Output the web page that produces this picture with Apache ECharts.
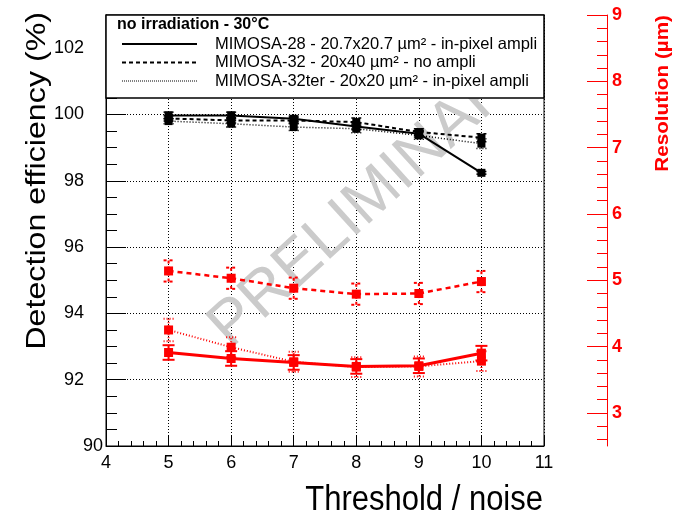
<!DOCTYPE html>
<html>
<head>
<meta charset="utf-8">
<script src="https://cdn.jsdelivr.net/npm/echarts@6/dist/echarts.min.js"></script>
<style>
  html, body { margin: 0; padding: 0; background: #fff; }
  #chart { width: 682px; height: 517px; }
</style>
</head>
<body>
<div id="chart"></div>
<script>
// threshold / noise
const thresholds = [5, 6, 7, 8, 9, 10];

// detection efficiency (%), left axis
const effM28 = [99.97, 99.97, 99.87, 99.64, 99.42, 98.24];
const effM32 = [99.88, 99.82, 99.82, 99.77, 99.47, 99.3];
const effM32ter = [99.8, 99.72, 99.62, 99.57, 99.37, 99.12];
const effErrM28 = [0.1, 0.1, 0.08, 0.1, 0.1, 0.04];
const effErrM32 = [0.08, 0.08, 0.08, 0.12, 0.1, 0.12];
const effErrM32ter = [0.08, 0.1, 0.1, 0.12, 0.12, 0.15];

// resolution (um), right axis
const resM28 = [3.91, 3.82, 3.76, 3.7, 3.71, 3.9];
const resM32 = [5.14, 5.03, 4.88, 4.79, 4.8, 4.98];
const resM32ter = [4.25, 3.99, 3.77, 3.69, 3.7, 3.78];
const resErrM28 = [0.11, 0.11, 0.11, 0.11, 0.11, 0.11];
const resErrM32 = [0.16, 0.16, 0.16, 0.16, 0.16, 0.16];
const resErrM32ter = [0.17, 0.15, 0.15, 0.15, 0.15, 0.15];

const resTicks = [3, 4, 5, 6, 7, 8, 9];
const resMinorTicks = [2.6, 2.8, 3.2, 3.4, 3.6, 3.8, 4.2, 4.4, 4.6, 4.8, 5.2, 5.4, 5.6, 5.8,
  6.2, 6.4, 6.6, 6.8, 7.2, 7.4, 7.6, 7.8, 8.2, 8.4, 8.6, 8.8];

const legendHeader = 'no irradiation - 30\u00B0C';
const legendNames = [
  'MIMOSA-28 - 20.7x20.7 \u00B5m\u00B2 - in-pixel ampli',
  'MIMOSA-32 - 20x40 \u00B5m\u00B2 - no ampli',
  'MIMOSA-32ter - 20x20 \u00B5m\u00B2 - in-pixel ampli'
];

const FONT = 'Liberation Sans, Arial, sans-serif';
const RED = '#ff0000';
const DASH = [4, 3];
const DOT = [1, 2];

const chart = echarts.init(document.getElementById('chart'));

function curve(ys, color, dash, width, size, axis) {
  return {
    type: 'line',
    yAxisIndex: axis,
    data: thresholds.map((x, i) => [x, ys[i]]),
    symbol: 'rect',
    symbolSize: size,
    itemStyle: { color },
    lineStyle: { color, width, type: dash || 'solid' },
    z: 4,
    silent: true
  };
}

function errorBars(ys, errs, color, dash, width, cap, axis) {
  return {
    type: 'custom',
    yAxisIndex: axis,
    data: thresholds.map((x, i) => [x, ys[i] - errs[i], ys[i] + errs[i]]),
    encode: { x: 0, y: [1, 2] },
    z: 3,
    silent: true,
    renderItem: (params, api) => {
      const lo = api.coord([api.value(0), api.value(1)]);
      const hi = api.coord([api.value(0), api.value(2)]);
      const style = { stroke: color, lineWidth: width, lineDash: dash || null };
      return {
        type: 'group',
        children: [
          { type: 'line', shape: { x1: lo[0], y1: lo[1], x2: hi[0], y2: hi[1] }, style },
          { type: 'line', shape: { x1: lo[0] - cap, y1: lo[1], x2: lo[0] + cap, y2: lo[1] }, style },
          { type: 'line', shape: { x1: hi[0] - cap, y1: hi[1], x2: hi[0] + cap, y2: hi[1] }, style }
        ]
      };
    }
  };
}

const legendRows = [
  { y: 44, dash: null, width: 2 },
  { y: 62.5, dash: DASH, width: 2 },
  { y: 81, dash: [1, 1], width: 1 }
];

chart.setOption({
  animation: false,
  grid: { left: 106, right: 138, top: 15, bottom: 71, show: true, borderColor: '#000', borderWidth: 1 },
  xAxis: {
    type: 'value', min: 4, max: 11, interval: 1,
    axisLine: { lineStyle: { color: '#000' } },
    axisTick: { inside: true, length: 10, lineStyle: { color: '#000' } },
    minorTick: { show: true, splitNumber: 5, length: 5, lineStyle: { color: '#000' } },
    axisLabel: { color: '#000', fontSize: 18, fontFamily: FONT, margin: 8 },
    splitLine: { show: true, lineStyle: { color: '#000', type: DOT, width: 1 } }
  },
  yAxis: [
    {
      type: 'value', min: 90, max: 103, interval: 2,
      axisLine: { show: true, lineStyle: { color: '#000' } },
      axisTick: { inside: true, length: 20, lineStyle: { color: '#000' } },
      minorTick: { show: true, splitNumber: 4, length: 11, lineStyle: { color: '#000' } },
      axisLabel: {
        color: '#000', fontSize: 18, fontFamily: FONT, margin: 22, showMaxLabel: false,
        formatter: v => (v === 90 ? '{end|90}' : String(v)),
        rich: { end: { width: 1, align: 'left', fontSize: 18, fontFamily: FONT, color: '#000' } }
      },
      splitLine: { show: true, lineStyle: { color: '#000', type: DOT, width: 1 } }
    },
    {
      type: 'value', min: 2.5, max: 9, position: 'right', offset: 63,
      axisLine: { show: true, lineStyle: { color: RED, width: 1 } },
      axisTick: { show: true, inside: true, length: 20, customValues: resTicks, lineStyle: { color: RED } },
      axisLabel: { color: RED, fontSize: 18, fontWeight: 'bold', fontFamily: FONT, margin: 5, customValues: resTicks },
      splitLine: { show: false }
    },
    {
      type: 'value', min: 2.5, max: 9, position: 'right', offset: 63,
      axisLine: { show: false },
      axisTick: { show: true, inside: true, length: 10, customValues: resMinorTicks, lineStyle: { color: RED } },
      axisLabel: { show: false },
      splitLine: { show: false }
    }
  ],
  series: [
    curve(effM28, '#000', null, 2, 8, 0),
    curve(effM32, '#000', DASH, 2, 8, 0),
    curve(effM32ter, '#000', DOT, 1.5, 8, 0),
    errorBars(effM28, effErrM28, '#000', null, 1.5, 5, 0),
    errorBars(effM32, effErrM32, '#000', DASH, 1.5, 5, 0),
    errorBars(effM32ter, effErrM32ter, '#000', DOT, 1.5, 5, 0),
    curve(resM28, RED, null, 3, 9, 1),
    curve(resM32, RED, [5, 4], 2.5, 9, 1),
    curve(resM32ter, RED, DOT, 2, 9, 1),
    errorBars(resM28, resErrM28, RED, null, 2, 6, 1),
    errorBars(resM32, resErrM32, RED, [3, 3], 2, 5, 1),
    errorBars(resM32ter, resErrM32ter, RED, DOT, 2, 5, 1)
  ],
  graphic: [
    // PRELIMINARY watermark, behind the data and under the legend box
    {
      type: 'text', x: 240, y: 360, rotation: Math.PI * 0.235, z: 1, silent: true,
      style: { text: 'PRELIMINARY', fill: '#cbcbcb', font: '63px ' + FONT, align: 'left', verticalAlign: 'bottom' }
    },
    // legend box
    { type: 'rect', z: 100, silent: true, shape: { x: 106, y: 15, width: 438, height: 83 }, style: { fill: '#fff', stroke: '#000', lineWidth: 1.5 } },
    { type: 'text', z: 101, silent: true, x: 117, y: 25, style: { text: legendHeader, font: 'bold 16px ' + FONT, fill: '#000', verticalAlign: 'middle' } }
  ].concat(legendRows.flatMap((r, i) => [
    { type: 'line', z: 101, silent: true, shape: { x1: 122, y1: r.y, x2: 197, y2: r.y }, style: { stroke: '#000', lineWidth: r.width, lineDash: r.dash } },
    { type: 'text', z: 101, silent: true, x: 215, y: r.y, style: { text: legendNames[i], font: '16.5px ' + FONT, fill: '#000', verticalAlign: 'middle' } }
  ])).concat([
    // axis titles
    {
      type: 'group', x: 37, y: 12, scaleY: 1.15, silent: true,
      children: [{ type: 'text', rotation: Math.PI / 2, style: { text: 'Detection efficiency (%)', font: '28px ' + FONT, fill: '#000', align: 'right', verticalAlign: 'middle' } }]
    },
    {
      type: 'group', x: 663, y: 15, scaleY: 1.15, silent: true,
      children: [{ type: 'text', rotation: Math.PI / 2, style: { text: 'Resolution (\u00B5m)', font: 'bold 18px ' + FONT, fill: RED, align: 'right', verticalAlign: 'middle' } }]
    },
    {
      type: 'group', x: 543, y: 500, scaleY: 1.15, silent: true,
      children: [{ type: 'text', style: { text: 'Threshold / noise', font: '31px ' + FONT, fill: '#000', align: 'right', verticalAlign: 'middle' } }]
    }
  ])
});
</script>
</body>
</html>
